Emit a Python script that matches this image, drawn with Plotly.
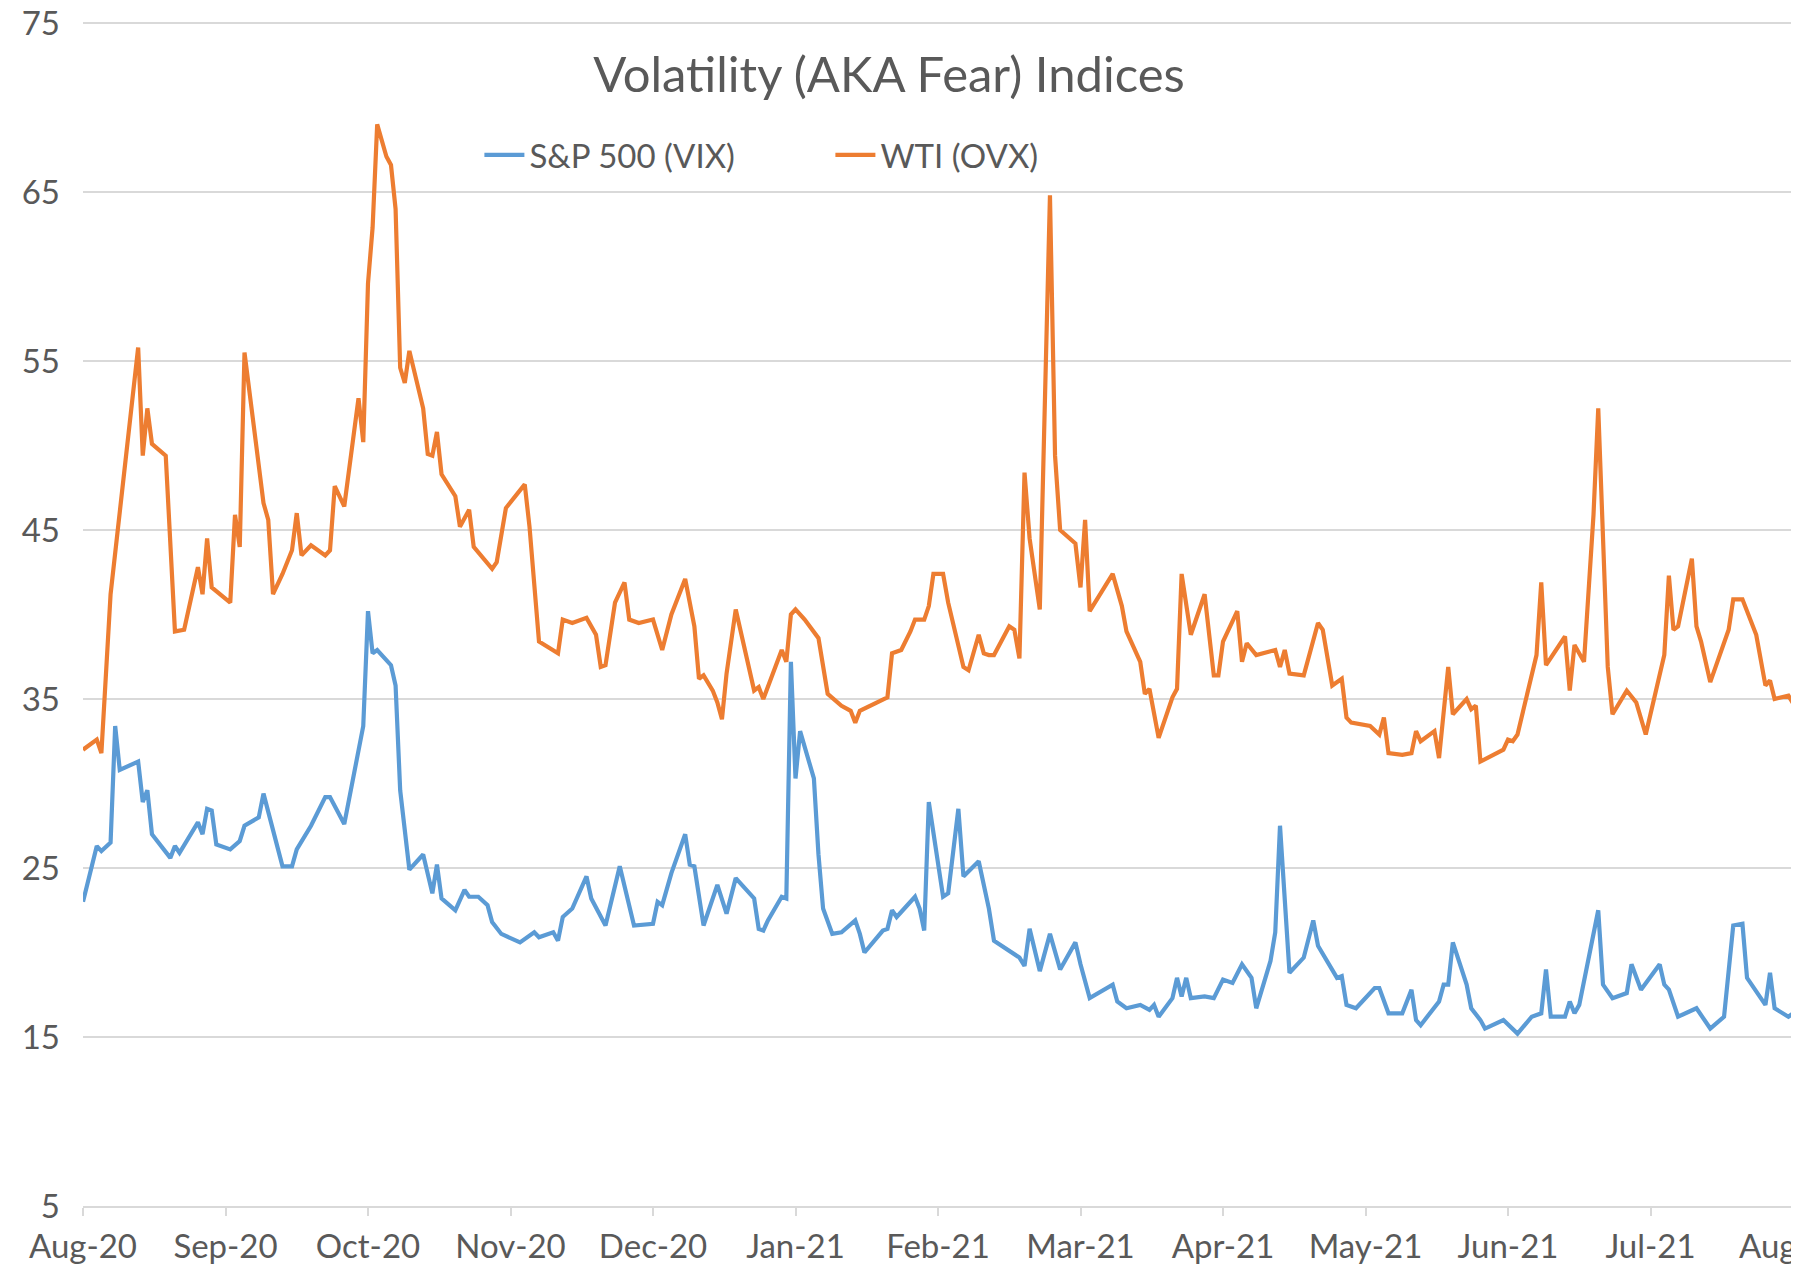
import calendar
import plotly.graph_objects as go

# ---- data ----
month_labels = ["Aug-20", "Sep-20", "Oct-20", "Nov-20", "Dec-20", "Jan-21", "Feb-21",
                "Mar-21", "Apr-21", "May-21", "Jun-21", "Jul-21", "Aug-21"]

ovx_dates = [
    "2020-08-01", "2020-08-04", "2020-08-05", "2020-08-07", "2020-08-13", "2020-08-14", "2020-08-15",
    "2020-08-16", "2020-08-19", "2020-08-21", "2020-08-23", "2020-08-26", "2020-08-27", "2020-08-28",
    "2020-08-29", "2020-09-02", "2020-09-03", "2020-09-04", "2020-09-05", "2020-09-09", "2020-09-10",
    "2020-09-11", "2020-09-13", "2020-09-15", "2020-09-16", "2020-09-17", "2020-09-19", "2020-09-22",
    "2020-09-23", "2020-09-24", "2020-09-26", "2020-09-29", "2020-09-30", "2020-10-01", "2020-10-02",
    "2020-10-03", "2020-10-05", "2020-10-06", "2020-10-07", "2020-10-08", "2020-10-09", "2020-10-10",
    "2020-10-13", "2020-10-14", "2020-10-15", "2020-10-16", "2020-10-17", "2020-10-20", "2020-10-21",
    "2020-10-23", "2020-10-24", "2020-10-28", "2020-10-29", "2020-10-31", "2020-11-04", "2020-11-05",
    "2020-11-07", "2020-11-11", "2020-11-12", "2020-11-14", "2020-11-17", "2020-11-19", "2020-11-20",
    "2020-11-21", "2020-11-23", "2020-11-25", "2020-11-26", "2020-11-28", "2020-12-01", "2020-12-03",
    "2020-12-05", "2020-12-08", "2020-12-10", "2020-12-11", "2020-12-12", "2020-12-14", "2020-12-15",
    "2020-12-16", "2020-12-17", "2020-12-19", "2020-12-23", "2020-12-24", "2020-12-25", "2020-12-27",
    "2020-12-29", "2020-12-30", "2020-12-31", "2021-01-01", "2021-01-03", "2021-01-06", "2021-01-08",
    "2021-01-11", "2021-01-13", "2021-01-14", "2021-01-15", "2021-01-21", "2021-01-22", "2021-01-24",
    "2021-01-26", "2021-01-27", "2021-01-29", "2021-01-30", "2021-01-31", "2021-02-02", "2021-02-03",
    "2021-02-06", "2021-02-07", "2021-02-09", "2021-02-10", "2021-02-11", "2021-02-12", "2021-02-15",
    "2021-02-16", "2021-02-17", "2021-02-18", "2021-02-19", "2021-02-21", "2021-02-23", "2021-02-24",
    "2021-02-25", "2021-02-28", "2021-03-01", "2021-03-02", "2021-03-03", "2021-03-08", "2021-03-10",
    "2021-03-11", "2021-03-14", "2021-03-15", "2021-03-16", "2021-03-18", "2021-03-21", "2021-03-22",
    "2021-03-23", "2021-03-25", "2021-03-28", "2021-03-30", "2021-03-31", "2021-04-01", "2021-04-04",
    "2021-04-05", "2021-04-06", "2021-04-08", "2021-04-12", "2021-04-13", "2021-04-14", "2021-04-15",
    "2021-04-18", "2021-04-20", "2021-04-21", "2021-04-22", "2021-04-24", "2021-04-26", "2021-04-27",
    "2021-04-28", "2021-05-02", "2021-05-04", "2021-05-05", "2021-05-06", "2021-05-09", "2021-05-11",
    "2021-05-12", "2021-05-13", "2021-05-16", "2021-05-17", "2021-05-19", "2021-05-20", "2021-05-23",
    "2021-05-24", "2021-05-25", "2021-05-26", "2021-05-31", "2021-06-01", "2021-06-02", "2021-06-03",
    "2021-06-07", "2021-06-08", "2021-06-09", "2021-06-13", "2021-06-14", "2021-06-15", "2021-06-17",
    "2021-06-19", "2021-06-20", "2021-06-22", "2021-06-23", "2021-06-26", "2021-06-28", "2021-06-30",
    "2021-07-04", "2021-07-05", "2021-07-06", "2021-07-07", "2021-07-10", "2021-07-11", "2021-07-12",
    "2021-07-14", "2021-07-18", "2021-07-19", "2021-07-21", "2021-07-24", "2021-07-26", "2021-07-27",
    "2021-07-28", "2021-07-31", "2021-08-02",
]
ovx_values = [
    32.0, 32.6, 31.8, 41.2, 55.8, 49.4, 52.2,
    50.1, 49.4, 39.0, 39.1, 42.8, 41.2, 44.5,
    41.6, 40.7, 45.9, 44.0, 55.5, 46.6, 45.6,
    41.2, 42.4, 43.8, 46.0, 43.5, 44.1, 43.5,
    43.8, 47.6, 46.4, 52.8, 50.2, 59.6, 62.9,
    69.0, 67.1, 66.6, 64.0, 54.6, 53.7, 55.6,
    52.2, 49.5, 49.4, 50.8, 48.3, 47.0, 45.2,
    46.2, 44.0, 42.7, 43.1, 46.3, 47.7, 45.2,
    38.4, 37.7, 39.7, 39.5, 39.8, 38.8, 36.9,
    37.0, 40.7, 41.9, 39.7, 39.5, 39.7, 37.9,
    40.0, 42.1, 39.3, 36.2, 36.4, 35.5, 34.8,
    33.8, 36.5, 40.3, 35.5, 35.7, 35.0, 36.4,
    37.9, 37.2, 40.0, 40.3, 39.7, 38.6, 35.3,
    34.6, 34.3, 33.6, 34.3, 35.1, 37.7, 37.9,
    39.0, 39.7, 39.7, 40.5, 42.4, 42.4, 40.7,
    36.9, 36.7, 38.8, 37.7, 37.6, 37.6, 39.3,
    39.1, 37.4, 48.4, 44.5, 40.3, 64.8, 49.4,
    45.0, 44.2, 41.6, 45.6, 40.2, 42.4, 40.5,
    39.0, 37.2, 35.3, 35.6, 32.7, 35.1, 35.6,
    42.4, 38.8, 41.2, 36.4, 36.4, 38.4, 40.2,
    37.2, 38.3, 37.6, 37.9, 36.9, 37.9, 36.5,
    36.4, 38.6, 39.5, 39.1, 35.8, 36.2, 33.9,
    33.6, 33.4, 32.9, 33.9, 31.8, 31.7, 31.8,
    33.1, 32.5, 33.1, 31.5, 36.9, 34.1, 35.0,
    34.4, 34.6, 31.3, 32.0, 32.6, 32.5, 32.9,
    37.6, 41.9, 37.0, 38.7, 35.5, 38.2, 37.2,
    45.9, 52.2, 36.9, 34.1, 35.5, 34.8, 32.9,
    37.6, 42.3, 39.1, 39.3, 43.3, 39.3, 38.4,
    36.0, 39.1, 40.9, 40.9, 38.8, 35.8, 36.1,
    35.0, 35.2, 34.3,
]

vix_dates = [
    "2020-08-01", "2020-08-04", "2020-08-05", "2020-08-07", "2020-08-08", "2020-08-09", "2020-08-13",
    "2020-08-14", "2020-08-15", "2020-08-16", "2020-08-20", "2020-08-21", "2020-08-22", "2020-08-26",
    "2020-08-27", "2020-08-28", "2020-08-29", "2020-08-30", "2020-09-02", "2020-09-04", "2020-09-05",
    "2020-09-08", "2020-09-09", "2020-09-13", "2020-09-15", "2020-09-16", "2020-09-19", "2020-09-22",
    "2020-09-23", "2020-09-26", "2020-09-30", "2020-10-01", "2020-10-02", "2020-10-03", "2020-10-06",
    "2020-10-07", "2020-10-08", "2020-10-10", "2020-10-13", "2020-10-15", "2020-10-16", "2020-10-17",
    "2020-10-20", "2020-10-22", "2020-10-23", "2020-10-25", "2020-10-27", "2020-10-28", "2020-10-30",
    "2020-11-03", "2020-11-06", "2020-11-07", "2020-11-10", "2020-11-11", "2020-11-12", "2020-11-14",
    "2020-11-17", "2020-11-18", "2020-11-21", "2020-11-24", "2020-11-27", "2020-12-01", "2020-12-02",
    "2020-12-03", "2020-12-05", "2020-12-08", "2020-12-09", "2020-12-10", "2020-12-12", "2020-12-15",
    "2020-12-17", "2020-12-19", "2020-12-23", "2020-12-24", "2020-12-25", "2020-12-26", "2020-12-29",
    "2020-12-30", "2020-12-31", "2021-01-01", "2021-01-02", "2021-01-05", "2021-01-06", "2021-01-07",
    "2021-01-09", "2021-01-11", "2021-01-14", "2021-01-15", "2021-01-16", "2021-01-20", "2021-01-21",
    "2021-01-22", "2021-01-23", "2021-01-27", "2021-01-28", "2021-01-29", "2021-01-30", "2021-02-02",
    "2021-02-03", "2021-02-05", "2021-02-06", "2021-02-09", "2021-02-11", "2021-02-12", "2021-02-17",
    "2021-02-18", "2021-02-19", "2021-02-21", "2021-02-23", "2021-02-25", "2021-02-28", "2021-03-01",
    "2021-03-03", "2021-03-08", "2021-03-09", "2021-03-11", "2021-03-14", "2021-03-16", "2021-03-17",
    "2021-03-18", "2021-03-21", "2021-03-22", "2021-03-23", "2021-03-24", "2021-03-25", "2021-03-28",
    "2021-03-30", "2021-04-01", "2021-04-03", "2021-04-05", "2021-04-07", "2021-04-08", "2021-04-11",
    "2021-04-12", "2021-04-13", "2021-04-15", "2021-04-18", "2021-04-20", "2021-04-21", "2021-04-25",
    "2021-04-26", "2021-04-27", "2021-04-29", "2021-05-03", "2021-05-04", "2021-05-06", "2021-05-09",
    "2021-05-11", "2021-05-12", "2021-05-13", "2021-05-17", "2021-05-18", "2021-05-19", "2021-05-20",
    "2021-05-23", "2021-05-24", "2021-05-26", "2021-05-27", "2021-05-31", "2021-06-03", "2021-06-06",
    "2021-06-08", "2021-06-09", "2021-06-10", "2021-06-13", "2021-06-14", "2021-06-15", "2021-06-16",
    "2021-06-20", "2021-06-21", "2021-06-23", "2021-06-26", "2021-06-27", "2021-06-29", "2021-07-03",
    "2021-07-04", "2021-07-05", "2021-07-07", "2021-07-11", "2021-07-14", "2021-07-17", "2021-07-19",
    "2021-07-21", "2021-07-22", "2021-07-25", "2021-07-26", "2021-07-27", "2021-07-28", "2021-07-31",
    "2021-08-02",
]
vix_values = [
    23.0, 26.3, 26.0, 26.5, 33.4, 30.8, 31.3,
    28.9, 29.6, 27.0, 25.6, 26.3, 25.9, 27.7,
    27.0, 28.5, 28.4, 26.4, 26.1, 26.6, 27.5,
    28.0, 29.4, 25.1, 25.1, 26.1, 27.5, 29.2,
    29.2, 27.6, 33.4, 40.2, 37.7, 37.9, 37.0,
    35.8, 29.6, 24.9, 25.8, 23.5, 25.2, 23.2,
    22.5, 23.7, 23.3, 23.3, 22.8, 21.8, 21.1,
    20.6, 21.2, 20.9, 21.2, 20.7, 22.1, 22.6,
    24.5, 23.2, 21.6, 25.1, 21.6, 21.7, 23.0,
    22.8, 24.7, 27.0, 25.2, 25.1, 21.6, 24.0,
    22.3, 24.4, 23.2, 21.4, 21.3, 21.9, 23.3,
    23.2, 37.2, 30.3, 33.1, 30.3, 25.8, 22.6,
    21.1, 21.2, 21.9, 21.1, 20.0, 21.3, 21.4,
    22.5, 22.1, 23.3, 22.6, 21.3, 28.9, 23.3,
    23.5, 28.5, 24.5, 25.4, 22.6, 20.7, 19.7,
    19.2, 21.4, 18.9, 21.1, 19.0, 20.6, 19.3,
    17.3, 18.1, 17.1, 16.7, 16.9, 16.6, 16.9,
    16.2, 17.3, 18.5, 17.4, 18.5, 17.3, 17.4,
    17.3, 18.4, 18.2, 19.3, 18.5, 16.7, 19.5,
    21.2, 27.5, 18.8, 19.7, 21.9, 20.4, 18.5,
    18.6, 16.9, 16.7, 17.9, 17.9, 16.4, 16.4,
    17.8, 16.0, 15.7, 17.1, 18.1, 18.1, 20.6,
    18.1, 16.7, 16.0, 15.5, 16.0, 15.2, 16.2,
    16.4, 19.0, 16.2, 16.2, 17.1, 16.4, 16.9,
    22.5, 18.1, 17.3, 17.6, 19.3, 17.8, 19.3,
    18.1, 17.8, 16.2, 16.7, 15.5, 16.2, 21.6,
    21.7, 18.5, 17.3, 16.9, 18.8, 16.7, 16.2,
    16.6,
]

y_ticks = [5, 15, 25, 35, 45, 55, 65, 75]


def month_pos(d):
    """Position on an axis where every calendar month has equal width."""
    y, m, dd = (int(p) for p in d.split("-"))
    idx = (y - 2020) * 12 + (m - 8)
    return idx + (dd - 1) / calendar.monthrange(y, m)[1]


FONT = "Lato"
GREY = "#595959"
W, H = 1791, 1264          # page body has an 8px margin
L, T, B = 75, 13, 66

fig = go.Figure()
fig.add_trace(go.Scatter(
    x=[month_pos(d) for d in vix_dates], y=vix_values, mode="lines",
    name="S&P 500 (VIX)", line=dict(color="#5B9BD5", width=4.2),
))
fig.add_trace(go.Scatter(
    x=[month_pos(d) for d in ovx_dates], y=ovx_values, mode="lines",
    name="WTI (OVX)", line=dict(color="#ED7D31", width=4.2),
))

fig.update_layout(
    width=W, height=H,
    margin=dict(l=L, r=0, t=T, b=B),
    paper_bgcolor="white", plot_bgcolor="white",
    font=dict(family=FONT, color=GREY, size=33),
    title=dict(text="Volatility (AKA Fear) Indices", x=881 / W, xanchor="center",
               y=1 - 67 / H, yanchor="middle", yref="container",
               font=dict(size=49, color=GREY, family=FONT)),
    legend=dict(orientation="h", x=0.231, xanchor="left", y=0.887, yanchor="middle",
                font=dict(size=33, color=GREY), bgcolor="rgba(0,0,0,0)",
                entrywidth=296, itemwidth=40),
    showlegend=True,
)

fig.update_xaxes(
    range=[0, (W - L) / 142.5],
    tickvals=list(range(len(month_labels))), ticktext=month_labels,
    showgrid=False, zeroline=False,
    showline=True, linecolor="#D9D9D9", linewidth=1.5,
    ticks="outside", ticklen=8, tickcolor="#D9D9D9", tickwidth=1.5,
    ticklabelstandoff=3, ticklabeloverflow="allow",
    tickfont=dict(size=33, color=GREY, family=FONT),
    automargin=False,
)
fig.update_yaxes(
    range=[5, 75.12], tickvals=y_ticks,
    showgrid=True, gridcolor="#D9D9D9", gridwidth=1.5,
    zeroline=False, showline=False, ticks="",
    ticklabelstandoff=22, ticklabeloverflow="allow",
    tickfont=dict(size=33, color=GREY, family=FONT),
    automargin=False,
)

# thin border at the right edge of the chart frame
fig.add_shape(type="line", xref="paper", yref="paper", x0=0.9988, x1=0.9988, y0=-0.06, y1=1.02,
              line=dict(color="#D9D9D9", width=1.5))

fig.write_html("out.html")
